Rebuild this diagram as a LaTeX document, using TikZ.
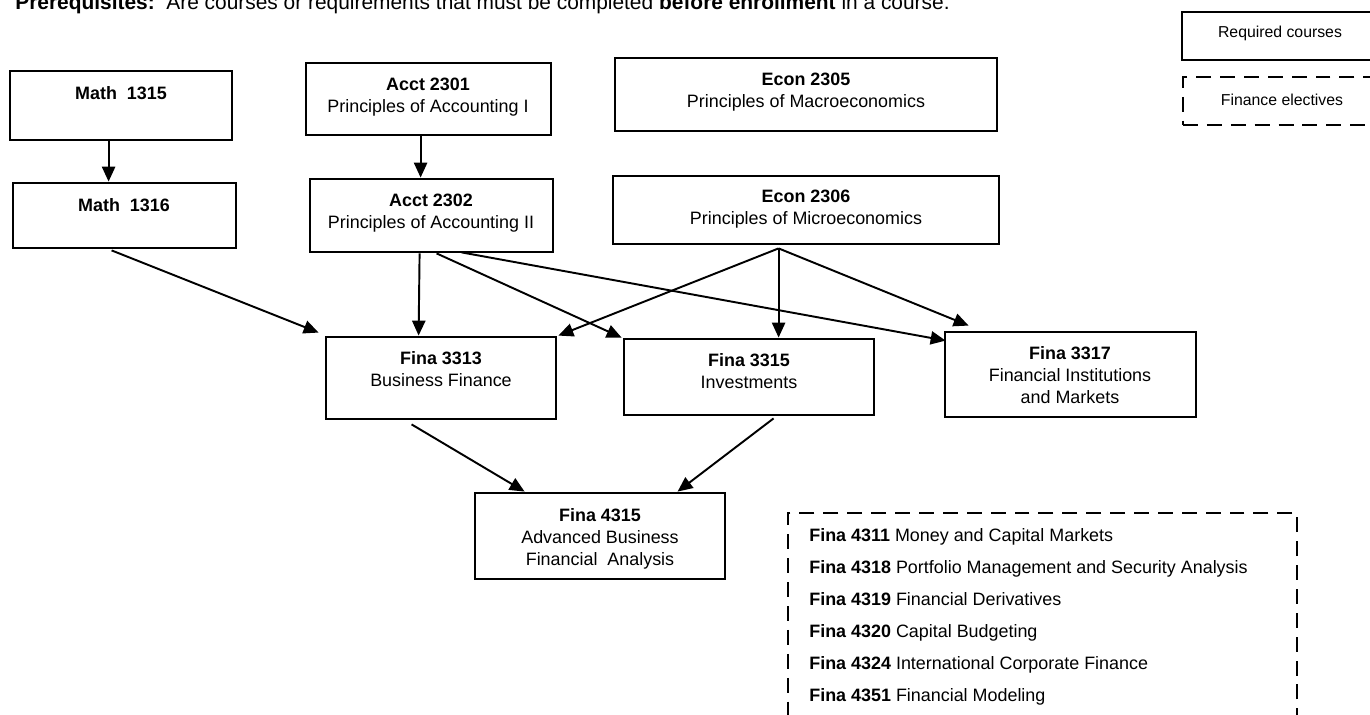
\documentclass[tikz,border=0pt]{standalone}
\usepackage{fontspec}
\setmainfont{Liberation Sans}
\usetikzlibrary{arrows.meta,calc,fit}
\newcommand{\coursefont}{\fontsize{10.2}{12.5}\selectfont}
\newcommand{\legendfont}{\fontsize{9}{10}\selectfont}
\newcommand{\notefont}{\fontsize{11.9}{14}\selectfont}

\begin{document}
\begin{tikzpicture}[x=0.02cm,y=-0.02cm,
		box/.style={draw,line width=1.6pt,inner sep=0pt},
		dashbox/.style={draw,line width=1.6pt,inner sep=0pt,dash pattern=on 8.5pt off 5.1pt},
		coursetext/.style={align=center,font=\coursefont,inner sep=0pt},
		prereq/.style={-{Triangle[length=8.5pt,width=7.5pt]},line width=1.1pt}]
				\useasboundingbox (0,0) rectangle (1370,715);
				\node (note) at (15,10) [anchor=base west,inner sep=0pt,font=\notefont] {\textbf{Prerequisites:}~~Are courses or requirements that must be completed \textbf{before enrollment} in a course.};
				\node (req) [box,fit={(1182,12) (1400,60)}] {};
				\node (reqt) at (1280,33) [font=\legendfont,inner sep=0pt] {Required courses};
				\node (elec) [dashbox,fit={(1183,77) (1400,125)}] {};
				\node (elect) at (1282,100) [font=\legendfont,inner sep=0pt] {Finance electives};
				\node (m1315) [box,fit={(10,71) (232,140)}] {};
				\node (m1315t) at (121,93) [coursetext] {\textbf{Math~~1315}};
				\node (m1316) [box,fit={(13,183) (236,248)}] {};
				\node (m1316t) at (124,205) [coursetext] {\textbf{Math~~1316}};
				\node (a2301) [box,fit={(306,63) (551,135)}] {};
				\node (a2301t) at (428,97) [coursetext] {\textbf{Acct 2301}\\Principles of Accounting I};
				\node (a2302) [box,fit={(310,179) (553,252)}] {};
				\node (a2302t) at (431,213) [coursetext] {\textbf{Acct 2302}\\Principles of Accounting II};
				\node (e2305) [box,fit={(615,58) (997,131)}] {};
				\node (e2305t) at (806,92) [coursetext] {\textbf{Econ 2305}\\Principles of Macroeconomics};
				\node (e2306) [box,fit={(613,176) (999,244)}] {};
				\node (e2306t) at (806,209) [coursetext] {\textbf{Econ 2306}\\Principles of Microeconomics};
				\node (f3313) [box,fit={(326,337) (556,419)}] {};
				\node (f3313t) at (441,369) [coursetext] {\textbf{Fina 3313}\\Business Finance};
				\node (f3315) [box,fit={(624,339) (874,415)}] {};
				\node (f3315t) at (749,371) [coursetext] {\textbf{Fina 3315}\\Investments};
				\node (f3317) [box,fit={(945,332) (1196,417)}] {};
				\node (f3317t) at (1070,375) [coursetext] {\textbf{Fina 3317}\\Financial Institutions\\and Markets};
				\node (f4315) [box,fit={(475,493) (725,579)}] {};
				\node (f4315t) at (600,539) [coursetext] {\textbf{Fina 4315}\\Advanced Business\\Financial~~Analysis};
				\node (list) [dashbox,fit={(788,513) (1297,740)}] {};
				\node (l4311) at (809,541.5) [anchor=base west,font=\coursefont,inner sep=0pt] {\textbf{Fina 4311} Money and Capital Markets};
				\node (l4318) at (809,573.5) [anchor=base west,font=\coursefont,inner sep=0pt] {\textbf{Fina 4318} Portfolio Management and Security Analysis};
				\node (l4319) at (809,605.5) [anchor=base west,font=\coursefont,inner sep=0pt] {\textbf{Fina 4319} Financial Derivatives};
				\node (l4320) at (809,637.5) [anchor=base west,font=\coursefont,inner sep=0pt] {\textbf{Fina 4320} Capital Budgeting};
				\node (l4324) at (809,669.5) [anchor=base west,font=\coursefont,inner sep=0pt] {\textbf{Fina 4324} International Corporate Finance};
				\node (l4351) at (809,701.5) [anchor=base west,font=\coursefont,inner sep=0pt] {\textbf{Fina 4351} Financial Modeling};
				\coordinate (e2306out) at ($(e2306.south west)+(167,3)$);
				\draw[prereq] ($(m1315.south west)+(100,0)$) -- ($(m1316.north west)+(97,0)$);
				\draw[prereq] ($(a2301.south west)+(116,0)$) -- ($(a2302.north west)+(112,0)$);
				\draw[prereq] ($(m1316.south west)+(100,1)$) -- ($(f3313.north west)+(-6,-3)$);
				\draw[prereq] ($(a2302.south west)+(111,0)$) -- ($(f3313.north west)+(94,0)$);
				\draw[prereq] ($(a2302.south west)+(128,0)$) -- ($(f3315.north west)+(-1,0)$);
				\draw[prereq] ($(a2302.south west)+(153,-1)$) -- ($(f3317.north west)+(2,10)$);
				\draw[prereq] (e2306out) -- ($(f3313.north east)+(1,0)$);
				\draw[prereq] (e2306out) -- ($(f3315.north west)+(156,0)$);
				\draw[prereq] (e2306out) -- ($(f3317.north west)+(25,-5)$);
				\draw[prereq] ($(f3313.south west)+(87,4)$) -- ($(f4315.north west)+(51,0)$);
				\draw[prereq] ($(f3315.south west)+(151,2)$) -- ($(f4315.north west)+(204,0)$);
			\end{tikzpicture}
\end{document}
